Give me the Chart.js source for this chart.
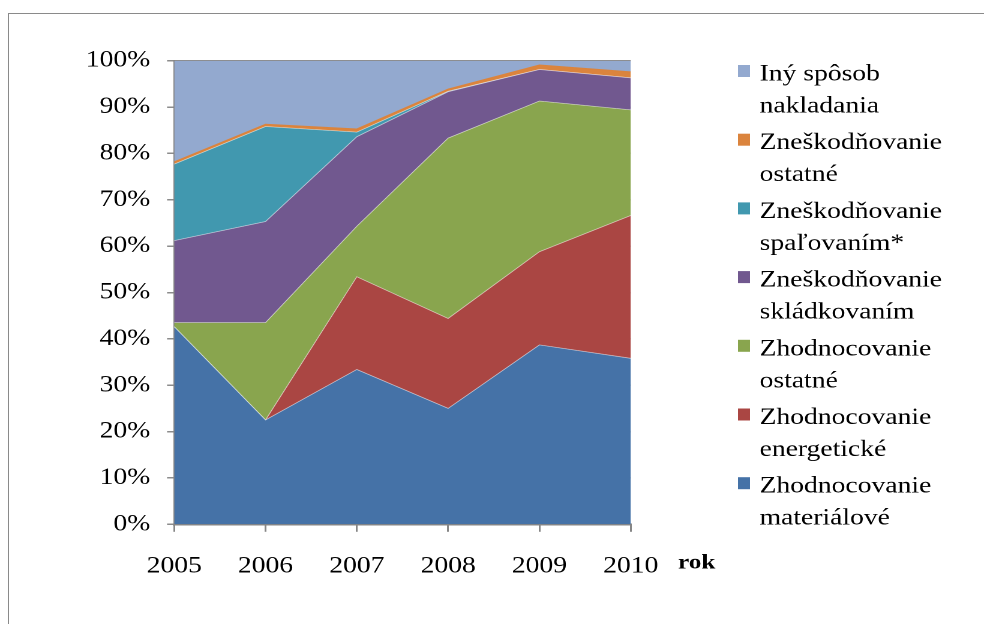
<!DOCTYPE html>
<html lang="sk">
<head>
  <meta charset="UTF-8" />
  <title>Nakladanie s odpadom 2005 - 2010</title>
  <script src="https://cdn.jsdelivr.net/npm/chart.js"></script>
  <style>
    body {
      margin: 0;
      background: #fff;
      width: 984px;
      height: 624px;
      overflow: hidden;
      position: relative;
    }
    /* ram okolo grafu */
    .frame {
      position: absolute;
      left: 8px;
      top: 12.5px;
      width: 1100px;
      height: 700px;
      border-left: 1.5px solid #8a8a8a;
      border-top: 1.5px solid #8a8a8a;
    }
    /* povodny obrazok je roztiahnuty do sirky */
    .wrap {
      position: absolute;
      left: 0;
      top: 0;
      width: 820px;
      height: 624px;
      transform: scaleX(1.2);
      transform-origin: 0 0;
    }
  </style>
</head>
<body>

  <div class="frame"></div>
  <div class="wrap">
    <canvas id="odpadChart"></canvas>
  </div>

  <script>
    const years = ['2005', '2006', '2007', '2008', '2009', '2010'];

    // podiely v % (citane z grafu)
    const materialove   = [42.6, 22.5, 33.4, 25.0, 38.7, 35.8];
    const energeticke   = [0.0, 0.0, 20.0, 19.4, 20.1, 30.8];
    const zhodOstatne   = [0.9, 21.0, 10.9, 38.9, 32.5, 22.8];
    const skladkovanim  = [17.7, 21.8, 19.3, 10.0, 6.8, 6.9];
    const spalovanim    = [16.5, 20.5, 1.0, 0.1, 0.0, 0.0];
    const znesOstatne   = [0.5, 0.5, 0.7, 0.5, 1.0, 1.3];
    const inySposob     = [21.8, 13.7, 14.7, 6.1, 0.9, 2.4];

    const seriesNames = [
      ['Zhodnocovanie', 'materiálové'],
      ['Zhodnocovanie', 'energetické'],
      ['Zhodnocovanie', 'ostatné'],
      ['Zneškodňovanie', 'skládkovaním'],
      ['Zneškodňovanie', 'spaľovaním*'],
      ['Zneškodňovanie', 'ostatné'],
      ['Iný spôsob', 'nakladania']
    ];
    const seriesData = [materialove, energeticke, zhodOstatne, skladkovanim, spalovanim, znesOstatne, inySposob];
    const colors = ['#4572A7', '#AA4643', '#89A54E', '#71588F', '#4198AF', '#DB843D', '#93A9CF'];

    const FONT = "'Liberation Serif', 'Times New Roman', serif";

    // legenda + popis osi "rok"
    const legendPlugin = {
      id: 'sideLegend',
      afterDraw(chart) {
        const ctx = chart.ctx;
        ctx.save();
        ctx.font = '23px ' + FONT;
        ctx.fillStyle = '#000';
        ctx.textBaseline = 'alphabetic';
        ctx.textAlign = 'left';
        for (let k = 0; k < seriesNames.length; k++) {
          const i = seriesNames.length - 1 - k;
          const cy = 71 + k * 68.7;
          ctx.fillStyle = colors[i];
          ctx.fillRect(615, cy - 6, 10, 12);
          ctx.fillStyle = '#000';
          ctx.fillText(seriesNames[i][0], 633, cy + 9.5);
          ctx.fillText(seriesNames[i][1], 633, cy + 41.5);
        }
        ctx.font = 'bold 21px ' + FONT;
        ctx.fillText('rok', 565, 568.5);
        ctx.restore();
      }
    };

    const datasets = seriesData.map((d, i) => ({
      label: seriesNames[i].join(' '),
      data: d,
      backgroundColor: colors[i],
      borderColor: i === 5 ? colors[i] : 'rgba(255,255,255,0.5)',
      borderWidth: i === 6 ? 0 : 0.8,
      pointRadius: 0,
      pointHoverRadius: 0,
      tension: 0,
      fill: i === 0 ? 'origin' : '-1'
    }));

    const ctx = document.getElementById('odpadChart').getContext('2d');
    new Chart(ctx, {
      type: 'line',
      data: { labels: years, datasets: datasets },
      options: {
        responsive: true,
        maintainAspectRatio: false,
        animation: false,
        devicePixelRatio: 2,
        layout: {
          padding: { left: 65.2, right: 294.4, top: 60.7, bottom: 39.7 }
        },
        plugins: {
          legend: { display: false },
          tooltip: { enabled: false }
        },
        scales: {
          x: {
            offset: false,
            afterFit(scale) { scale.height = 60; },
            border: { color: '#868686', width: 2 },
            grid: {
              drawOnChartArea: false,
              drawTicks: true,
              tickLength: 7.5,
              color: '#868686',
              lineWidth: 1.5
            },
            ticks: {
              autoSkip: false,
              maxRotation: 0,
              padding: 21,
              color: '#000',
              font: { family: FONT, size: 23 }
            }
          },
          y: {
            stacked: true,
            min: 0,
            max: 100,
            afterFit(scale) { scale.width = 80; },
            border: { color: '#868686', width: 1.5 },
            grid: {
              drawOnChartArea: true,
              drawTicks: true,
              tickLength: 6,
              color: '#8c8c8c',
              lineWidth: 1.5
            },
            ticks: {
              stepSize: 10,
              padding: 14,
              color: '#000',
              font: { family: FONT, size: 23 },
              callback: v => v + '%'
            }
          }
        }
      },
      plugins: [legendPlugin]
    });
  </script>

</body>
</html>
